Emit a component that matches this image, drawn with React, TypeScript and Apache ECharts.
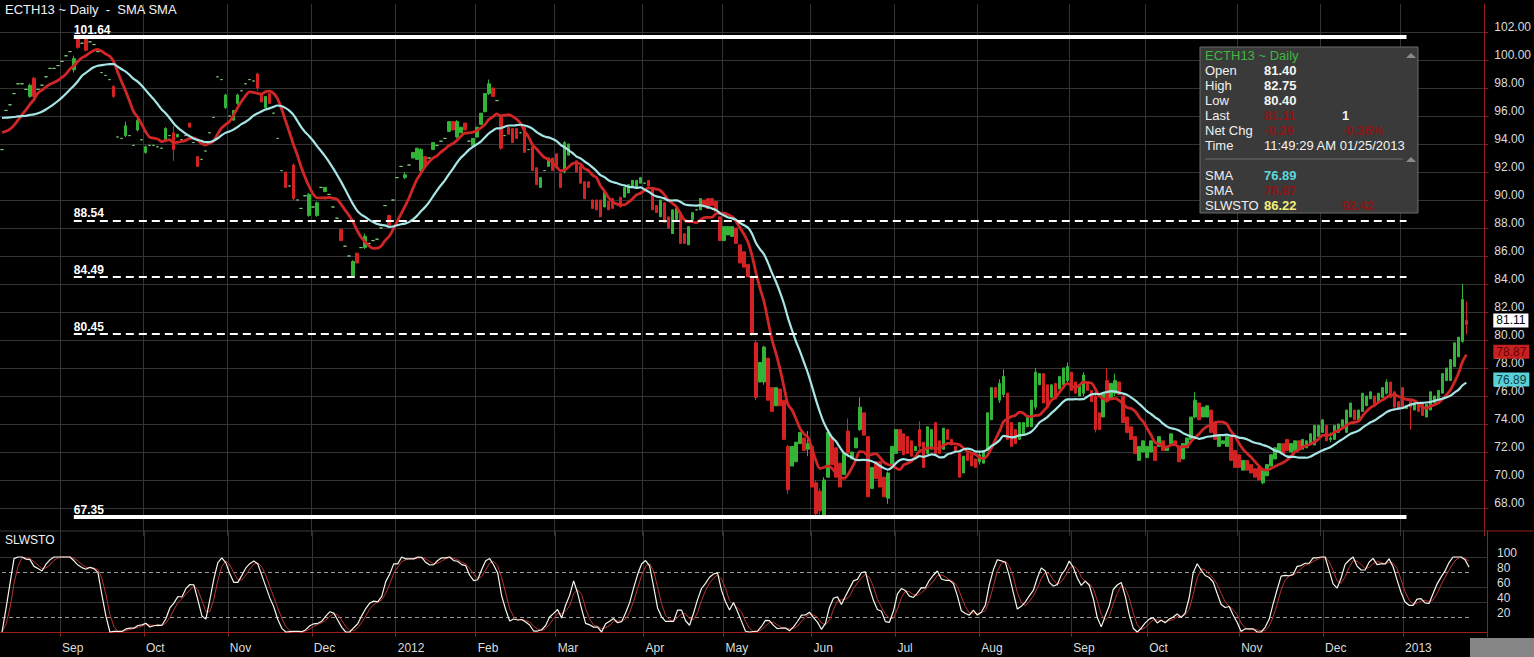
import React, { useEffect, useRef } from "react";
import * as echarts from "echarts";

// ---------------- Data ----------------
const MONTH_LABELS = ["Aug", "Sep", "Oct", "Nov", "Dec", "2012", "Feb", "Mar", "Apr", "May", "Jun", "Jul", "Aug", "Sep", "Oct", "Nov", "Dec", "2013"];
const MONTH_SESSIONS = [15, 21, 21, 21, 21, 20, 20, 22, 20, 22, 21, 21, 23, 19, 23, 21, 20, 17];
const TRAILING_EMPTY_SESSIONS = 4;

// A bar is either a close (no trade: open = high = low = close),
// [open, close] (no visible wicks) or [open, close, low, high].
type Bar = number | number[];

const AUG_2011: Bar[] = [93.6, 96.4, 96.8, 97.6, 98.3, 98.3, 97.9, [97.4, 98.2, 97.3, 98.3], [98.7, 97.4, 97.3, 98.8], 97.9, 98.2, 98.8, 99.4, 99.4, 99.6];
const SEP_2011: Bar[] = [99.9, 100.3, 100.6, [99.3, 100.1, 99.1, 100.3], [101.5, 100.9, 100.8, 101.64], 101.2, [101.6, 100.7, 100.6, 101.64], 101.3, 101.1, 100.6, 99.1, 98.9, 98.6, [98.1, 97.4, 97.3, 98.2], 94.5, 94.4, [94.6, 95.3, 94.5, 95.6], 94.6, 93.9, [95.0, 95.7, 94.9, 95.8], 94.3];
const OCT_2011: Bar[] = [[93.4, 93.8, 93.3, 93.9], 93.9, 93.9, 93.8, 93.7, [94.3, 95.1, 94.2, 95.2], 94.6, [94.8, 93.6, 92.8, 95.3], [94.5, 94.7], 94.3, 94.6, [95.5, 95.2], 94.1, [93.1, 92.4], 92.9, 93.5, 94.8, 95.9, 98.8, 98.6, [96.6, 97.5, 96.5, 97.6]];
const NOV_2011: Bar[] = [96.0, [95.7, 96.4], [96.9, 97.5, 96.8, 97.6], 97.8, 98.3, 98.6, 98.5, [99.0, 98.0, 97.8, 99.1], [97.6, 97.0], [96.6, 97.4], [97.6, 96.9], 96.2, 94.4, 92.1, [92.0, 90.9], 91.0, [92.5, 90.1, 90.0, 92.6], 90.0, 89.4, 90.3, [88.9, 90.4, 88.8, 90.5]];
const DEC_2011: Bar[] = [89.5, [88.9, 89.8, 88.8, 89.9], 90.9, [90.6, 90.9], 90.4, 89.5, 88.7, [87.9, 87.1], 86.7, 86.0, [84.6, 85.6, 84.5, 85.7], [86.2, 85.5], 86.6, [86.6, 87.4, 86.5, 87.6], 86.9, 87.1, 87.2, 88.0, 89.6, [88.9, 88.2], 90.0];
const JAN_2012: Bar[] = [91.6, 92.4, [91.6, 91.8, 91.5, 92.0], 92.5, [93.0, 93.4], [92.9, 93.7], [92.1, 93.6, 92.0, 93.7], [93.1, 92.4], 93.0, [93.6, 94.1], 93.9, 94.2, 94.4, [94.9, 95.6], [95.6, 95.0], [94.5, 95.6, 94.4, 95.7], [94.8, 95.2], [95.5, 95.0], 94.2, [93.9, 94.4]];
const FEB_2012: Bar[] = [[94.5, 95.2], [95.4, 96.2], [96.3, 97.6], [97.6, 98.3, 97.5, 98.6], [98.0, 97.4], 97.1, [95.9, 93.7, 93.6, 96.0], 94.6, [95.2, 94.7], [95.1, 94.1], [95.1, 94.4], 94.8, [95.2, 93.4], 93.6, [93.8, 92.1], [92.3, 91.1], [90.9, 91.6], 92.1, [92.4, 93.0], [93.0, 92.1]];
const MAR_2012: Bar[] = [[93.3, 92.3], [91.9, 90.9], [92.0, 94.1, 91.9, 94.2], [93.2, 94.0], 93.4, [92.8, 92.0], [92.4, 91.2], [91.3, 90.1], [91.3, 90.9], [90.0, 89.4], [90.0, 89.3], [90.0, 88.8], [89.5, 90.6], [89.9, 89.3], [90.1, 89.4], 89.7, [90.2, 89.5], [90.2, 90.9], [90.5, 91.1], [91.0, 91.4], [90.9, 91.4], [91.2, 91.6]];
const APR_2012: Bar[] = [91.2, [91.4, 91.0], [90.9, 89.3], [89.6, 89.1], [88.8, 90.0], [89.8, 88.4], [88.8, 88.0], [87.6, 89.3], [88.6, 89.4], [89.1, 86.9], [87.6, 86.9], [86.8, 88.1], [88.6, 89.1], 89.3, [89.3, 90.1], [90.0, 89.6], [90.1, 89.4], [90.1, 89.6], [89.9, 89.2], [88.8, 87.1]];
const MAY_2012: Bar[] = [[87.1, 88.1], [87.5, 88.1], [87.4, 88.1], [88.0, 86.9], [86.8, 85.5], [86.3, 85.2], [85.4, 84.5], [84.5, 80.5, 80.3, 84.6], [79.8, 75.9, 75.7, 80.0], [77.0, 78.4], [77.0, 79.5, 76.8, 79.6], [78.7, 75.7], [76.6, 74.9], [75.3, 76.6], [76.5, 75.3], [75.7, 72.9], [72.4, 69.3, 69.0, 72.5], [71.0, 72.4], [71.3, 72.7], [72.6, 73.4], [73.0, 72.1], [72.2, 72.6, 71.7, 73.5]];
const JUN_2012: Bar[] = [[72.4, 69.5], [69.8, 67.6, 67.35, 70.0], [69.2, 67.8, 67.4, 69.4], [67.5, 70.0, 67.4, 70.2], [70.2, 73.4], [73.0, 71.1], [72.3, 70.2], [71.2, 69.5], [70.4, 71.9], [73.5, 71.9, 71.7, 74.4], [71.5, 72.0], [72.3, 73.0], [73.6, 75.2, 73.5, 75.9], [74.8, 73.2], [73.1, 68.8], [69.4, 70.9], [71.3, 70.1], [71.3, 69.5], [70.2, 68.8], [68.7, 70.5, 68.3, 70.6], [71.0, 72.4]];
const JUL_2012: Bar[] = [[71.9, 73.6], [73.6, 72.1], [73.3, 71.8], [73.1, 71.9], [72.8, 71.7], [72.1, 72.4], [73.6, 72.4, 72.2, 74.2], [72.7, 70.9], [71.9, 73.8], [72.2, 73.6], [74.1, 71.9], [72.8, 71.9], [72.2, 73.7], [73.6, 72.9], [72.9, 72.5], [72.4, 72.1], [71.9, 70.2], [70.5, 71.7], [71.9, 71.4], [71.8, 71.0], [71.5, 70.9]];
const AUG_2012: Bar[] = [[71.3, 71.8, 71.1, 72.0], [71.2, 72.1], [72.1, 74.8], [74.3, 76.6], [76.6, 75.9], [75.7, 76.9, 75.5, 77.2], [76.1, 77.4, 75.9, 77.9], [76.2, 72.9], [74.1, 72.4], [73.6, 72.6], [72.9, 74.1], [73.2, 74.1], [73.8, 74.6], [73.8, 75.7], [75.2, 77.7, 75.0, 78.0], [76.8, 77.6], [77.6, 75.5], [76.8, 75.2], [75.9, 76.8], [76.9, 75.8], [76.5, 77.4], [76.8, 78.0], [77.1, 78.1, 77.0, 78.4]];
const SEP_2012: Bar[] = [[77.7, 76.4], [77.0, 76.2], [76.0, 76.8], [76.2, 77.5, 76.0, 77.7], [77.0, 76.4], [76.4, 75.6], [76.0, 73.6, 73.4, 76.3], [74.8, 73.6], [74.5, 76.2], [77.1, 75.6, 75.5, 78.0], [75.8, 76.9], [76.2, 77.1, 76.0, 77.6], [77.0, 76.1], [76.0, 74.1], [74.5, 73.4], [73.8, 72.9], [73.1, 71.9], [71.4, 72.4], [72.0, 72.8]];
const OCT_2012: Bar[] = [[71.6, 72.4], [72.0, 72.8], [72.4, 71.4], [72.4, 73.1], [72.8, 72.1], [72.1, 72.3], [72.6, 73.3], [72.8, 72.5], [72.4, 71.3], [71.5, 72.6], [72.3, 73.0], [72.9, 74.5], [74.5, 75.7, 74.4, 76.3], [75.5, 74.3], [74.5, 75.2], [74.5, 75.3], [75.0, 73.4], [74.1, 72.9], [72.4, 73.1], [72.6, 72.8], [72.4, 73.1], [73.1, 71.4], [72.1, 70.9]];
const NOV_2012: Bar[] = [[71.8, 70.9], [70.7, 71.4], [71.4, 70.7], [71.1, 70.5], [70.8, 70.2], [70.9, 70.0], [69.8, 70.7, 69.7, 70.8], [70.3, 71.1], [71.0, 71.8], [71.5, 72.3], [72.0, 72.6], [72.6, 71.9], [72.9, 72.1], [72.0, 72.6], [72.1, 72.8], [72.8, 72.2], [72.2, 72.9], [72.3, 72.8], [72.6, 73.3], [72.5, 73.9], [73.1, 73.9]];
const DEC_2012: Bar[] = [[73.4, 74.3], [73.9, 72.8], [72.9, 73.0, 72.7, 73.4], [72.9, 73.9], [73.4, 74.0], [73.8, 74.3], [73.4, 75.0], [74.5, 75.5], [75.0, 74.3], [74.3, 75.0], [74.9, 76.2], [75.3, 76.0], [75.8, 76.3], [76.0, 75.4], [75.6, 76.2], [75.9, 76.6], [76.2, 77.0, 76.1, 77.2], [77.0, 75.9], [76.3, 75.2], [75.6, 75.1]];
const JAN_2013: Bar[] = [[76.6, 75.1], [75.1, 75.3], [75.6, 75.2, 73.6, 75.8], [75.0, 75.5], [75.5, 74.9], [75.5, 74.6], [74.5, 75.4], [75.0, 76.3], [75.5, 76.0], [75.8, 76.4], [76.2, 77.6], [77.1, 78.0], [77.1, 78.6], [78.1, 79.8], [78.8, 80.2], [79.9, 82.9, 79.8, 84.0], [81.4, 81.11, 80.4, 82.75]];

// closes before the visible window, estimated from where both averages start
const WARMUP_CLOSES = [96.0, 96.5, 97.0, 97.5, 97.8, 97.5, 97.0, 96.6, 96.2, 96.0, 95.8, 95.6, 95.4, 95.2, 95.0, 94.9, 94.7, 94.6, 94.4];

const FIB_LEVELS = [101.64, 88.54, 84.49, 80.45, 67.35];
const PRICE_GRID = [68, 70, 72, 74, 76, 78, 80, 82, 84, 86, 88, 90, 92, 94, 96, 98, 100, 102];
const STOCH_GRID = [40, 60, 100];
const STOCH_DASHED = [20, 80];
const STOCH_LABELS = [20, 40, 60, 80, 100];

const LAST_PRICE = 81.11;
const SMA_FAST_LAST = 78.87;
const SMA_SLOW_LAST = 76.89;

const SMA_FAST = 9;
const SMA_SLOW = 20;
const STO_K = 14;
const STO_SLOW = 3;
const STO_D = 3;

const INFO_TITLE = "ECTH13 ~ Daily";
const INFO_ROWS = [
  { label: "Open", value: "81.40" },
  { label: "High", value: "82.75" },
  { label: "Low", value: "80.40" },
  { label: "Last", value: "81.11", hidden: true, extra: "1" },
  { label: "Net Chg", value: "-0.29", hidden: true, extra: "-0.36%", extraHidden: true },
  { label: "Time", value: "11:49:29 AM 01/25/2013", plain: true },
];
const INFO_STUDIES = [
  { label: "SMA", value: "76.89", color: "#5fd6dc" },
  { label: "SMA", value: "78.87", color: "#b02020", hidden: true },
  { label: "SLWSTO", value: "86.22", color: "#f2ee7a", extra: "92.42" },
];

// ---------------- Derived ----------------
const BARS: Bar[] = [
  ...AUG_2011, ...SEP_2011, ...OCT_2011, ...NOV_2011, ...DEC_2011,
  ...JAN_2012, ...FEB_2012, ...MAR_2012, ...APR_2012, ...MAY_2012, ...JUN_2012,
  ...JUL_2012, ...AUG_2012, ...SEP_2012, ...OCT_2012, ...NOV_2012, ...DEC_2012, ...JAN_2013,
];

function toOCLH(b: Bar): number[] {
  if (typeof b === "number") return [b, b, b, b];
  const o = b[0];
  const c = b[1];
  const l = b.length > 2 ? b[2] : Math.min(o, c);
  const h = b.length > 3 ? b[3] : Math.max(o, c);
  return [o, c, l, h];
}

function sma(arr: (number | null)[], n: number): (number | null)[] {
  return arr.map((_, i) => {
    if (i < n - 1) return null;
    let s = 0;
    for (let k = i - n + 1; k <= i; k++) {
      const v = arr[k];
      if (v == null) return null;
      s += v;
    }
    return s / n;
  });
}

function buildOption() {
  const candles = BARS.map(toOCLH);
  const W = WARMUP_CLOSES.length;
  const allC = [...WARMUP_CLOSES, ...candles.map((b) => b[1])];
  const allL = [...WARMUP_CLOSES, ...candles.map((b) => b[2])];
  const allH = [...WARMUP_CLOSES, ...candles.map((b) => b[3])];

  const fast = sma(allC, SMA_FAST).slice(W).map((v) => (v == null ? null : +v.toFixed(3)));
  const slow = sma(allC, SMA_SLOW).slice(W).map((v) => (v == null ? null : +v.toFixed(3)));

  const rawK: (number | null)[] = allC.map((c, i) => {
    if (i < STO_K - 1) return null;
    let hh = -Infinity;
    let ll = Infinity;
    for (let k = i - STO_K + 1; k <= i; k++) {
      hh = Math.max(hh, allH[k]);
      ll = Math.min(ll, allL[k]);
    }
    return hh === ll ? 50 : ((c - ll) / (hh - ll)) * 100;
  });
  const slowK = sma(rawK, STO_SLOW);
  const slowD = sma(slowK, STO_D);
  const kLine = slowK.slice(W).map((v) => (v == null ? null : +v.toFixed(2)));
  const dLine = slowD.slice(W).map((v) => (v == null ? null : +v.toFixed(2)));

  const categories: string[] = [];
  const monthStart = new Map<number, string>();
  MONTH_LABELS.forEach((m, mi) => {
    for (let d = 0; d < MONTH_SESSIONS[mi]; d++) {
      if (d === 0 && mi > 0) monthStart.set(categories.length, m);
      categories.push(`${mi}:${m}:${d + 1}`);
    }
  });
  for (let k = 0; k < TRAILING_EMPTY_SESSIONS; k++) categories.push(`next:${k + 1}`);
  const isMonthStart = (i: number) => monthStart.has(i);

  const FIB_START = 18;
  const FIB_END = 352;
  const fibMax = Math.max(...FIB_LEVELS);
  const fibMin = Math.min(...FIB_LEVELS);

  const GRID_COLOR = "#333333";
  const AXIS_RED = "#9c1c1c";
  const FONT = '"Liberation Sans", Arial, sans-serif';
  const TXT = "#dcdcdc";
  const CLEAR = "rgba(0,0,0,0)";

  const STO_MIN = -20 / 3;
  const STO_MAX = 134 + 2 / 3;

  const tag = (v: number, bg: string, fg: string) => ({
    yAxis: v,
    lineStyle: { color: CLEAR, width: 1 },
    label: {
      show: true,
      position: "end",
      distance: 9,
      offset: [0, -4],
      formatter: v.toFixed(2),
      backgroundColor: bg,
      color: fg,
      padding: [1, 3, 0, 3],
      lineHeight: 13,
      fontSize: 12,
      fontFamily: FONT,
    },
  });

  const infoChildren: any[] = [
    { type: "rect", z: 100, shape: { x: 0, y: 0, width: 218, height: 166 }, style: { fill: "#3a3a3a", stroke: "#6a6a6a", lineWidth: 1 } },
    { type: "text", z: 101, x: 5, y: 8, style: { text: INFO_TITLE, fill: "#3fb83f", font: `13px ${FONT}`, textVerticalAlign: "middle" } },
    { type: "polygon", z: 101, shape: { points: [[206, 11], [216, 11], [211, 6]] }, style: { fill: "#8a8a8a" } },
    { type: "line", z: 101, shape: { x1: 5, y1: 112, x2: 203, y2: 112 }, style: { stroke: "#6c6c6c", lineWidth: 1 } },
    { type: "polygon", z: 101, shape: { points: [[206, 115], [216, 115], [211, 110]] }, style: { fill: "#8a8a8a" } },
  ];
  const hiddenStyle = { fill: "#8c1515", shadowColor: "rgba(210,30,30,0.9)", shadowBlur: 5 };
  INFO_ROWS.forEach((r, i) => {
    const y = 23 + i * 15;
    infoChildren.push({ type: "text", z: 101, x: 5, y, style: { text: r.label, fill: "#f0f0f0", font: `13px ${FONT}`, textVerticalAlign: "middle" } });
    infoChildren.push({
      type: "text", z: 101, x: 64, y,
      style: { text: r.value, font: `${r.plain ? "" : "bold "}13px ${FONT}`, textVerticalAlign: "middle", ...(r.hidden ? hiddenStyle : { fill: "#f4f4f4" }) },
    });
    if (r.extra) {
      infoChildren.push({
        type: "text", z: 101, x: 142, y,
        style: { text: r.extra, font: `bold 13px ${FONT}`, textVerticalAlign: "middle", ...(r.extraHidden ? hiddenStyle : { fill: "#f4f4f4" }) },
      });
    }
  });
  INFO_STUDIES.forEach((s, i) => {
    const y = 128 + i * 15;
    infoChildren.push({ type: "text", z: 101, x: 5, y, style: { text: s.label, fill: "#f0f0f0", font: `13px ${FONT}`, textVerticalAlign: "middle" } });
    infoChildren.push({
      type: "text", z: 101, x: 64, y,
      style: { text: s.value, font: `bold 13px ${FONT}`, textVerticalAlign: "middle", ...(s.hidden ? hiddenStyle : { fill: s.color }) },
    });
    if (s.extra) {
      infoChildren.push({ type: "text", z: 101, x: 142, y, style: { text: s.extra, font: `bold 13px ${FONT}`, textVerticalAlign: "middle", ...hiddenStyle } });
    }
  });

  return {
    backgroundColor: "#000000",
    animation: false,
    textStyle: { fontFamily: FONT },
    grid: [
      { left: 0, right: 47, top: 4, height: 532 },
      { left: 0, right: 47, top: 531, height: 106 },
    ],
    xAxis: [
      {
        type: "category", gridIndex: 0, data: categories, boundaryGap: true,
        axisLine: { show: false }, axisTick: { show: false }, axisLabel: { show: false },
        splitLine: { show: true, interval: (i: number) => isMonthStart(i), lineStyle: { color: GRID_COLOR, width: 1 } },
      },
      {
        type: "category", gridIndex: 1, data: categories, boundaryGap: true,
        axisLine: { show: true, lineStyle: { color: AXIS_RED, width: 1 } },
        axisTick: { show: true, interval: (i: number) => isMonthStart(i), length: 4, lineStyle: { color: AXIS_RED } },
        axisLabel: {
          show: true, interval: (i: number) => isMonthStart(i),
          formatter: (_v: string, i: number) => monthStart.get(i) ?? "",
          align: "left", color: TXT, fontSize: 12, margin: 5, fontFamily: FONT,
        },
        splitLine: { show: true, interval: (i: number) => isMonthStart(i), lineStyle: { color: GRID_COLOR, width: 1 } },
      },
    ],
    yAxis: [
      {
        type: "value", gridIndex: 0, position: "right", min: 66, max: 104, interval: 2,
        axisLine: { show: true, lineStyle: { color: AXIS_RED, width: 1 } },
        axisTick: { show: true, length: 4, lineStyle: { color: AXIS_RED } },
        axisLabel: {
          show: true, formatter: (v: number) => v.toFixed(2), color: TXT, fontSize: 12, margin: 10,
          showMinLabel: false, showMaxLabel: false, verticalAlign: "bottom", lineHeight: 10, fontFamily: FONT,
        },
        splitLine: { show: false },
      },
      {
        type: "value", gridIndex: 1, position: "right", min: STO_MIN, max: STO_MAX,
        axisLine: { show: true, lineStyle: { color: AXIS_RED, width: 1 } },
        axisTick: { show: false }, axisLabel: { show: false }, splitLine: { show: false },
      },
    ],
    series: [
      {
        name: "price grid", type: "line", xAxisIndex: 0, yAxisIndex: 0, data: [], silent: true,
        markLine: {
          silent: true, symbol: "none", z: 1,
          data: PRICE_GRID.map((v) => ({ yAxis: v, lineStyle: { color: GRID_COLOR, type: "solid", width: 1 }, label: { show: false } })),
        },
      },
      {
        name: "ECTH13", type: "candlestick", xAxisIndex: 0, yAxisIndex: 0, data: candles, barWidth: 3,
        itemStyle: {
          color: "#33b439", color0: "#d42222", borderColor: "#33b439", borderColor0: "#d42222",
          borderColorDoji: "#7fca7f", borderWidth: 1,
        },
        markLine: {
          silent: true, symbol: "none",
          data: FIB_LEVELS.map((v) => {
            const solid = v === fibMax || v === fibMin;
            return [
              {
                coord: [categories[FIB_START], v],
                lineStyle: { color: "#ffffff", type: solid ? "solid" : [8, 5], width: solid ? 4 : 2, opacity: 1 },
                label: {
                  show: true, position: "insideStartTop", distance: [0, 1], formatter: v.toFixed(2),
                  color: "#ffffff", fontSize: 12, fontWeight: "bold", fontFamily: FONT,
                },
              },
              { coord: [categories[FIB_END], v] },
            ];
          }),
        },
      },
      {
        name: "SMA fast", type: "line", xAxisIndex: 0, yAxisIndex: 0, data: fast, showSymbol: false, symbol: "none",
        smooth: 0.3, lineStyle: { color: "#d02626", width: 2.8 }, silent: true,
      },
      {
        name: "SMA slow", type: "line", xAxisIndex: 0, yAxisIndex: 0, data: slow, showSymbol: false, symbol: "none",
        smooth: 0.3, lineStyle: { color: "#a6e6e6", width: 2.2 }, silent: true,
      },
      {
        name: "tags", type: "line", xAxisIndex: 0, yAxisIndex: 0, data: [], silent: true,
        markLine: {
          silent: true, symbol: "none",
          data: [
            tag(LAST_PRICE, "#ffffff", "#000000"),
            tag(SMA_FAST_LAST, "#c42222", "#6a0000"),
            tag(SMA_SLOW_LAST, "#58d0d8", "#0d3b40"),
          ],
        },
      },
      {
        name: "stoch grid", type: "line", xAxisIndex: 1, yAxisIndex: 1, data: [], silent: true,
        markLine: {
          silent: true, symbol: "none", z: 1,
          data: [
            ...STOCH_GRID.map((v) => ({ yAxis: v, lineStyle: { color: GRID_COLOR, type: "solid", width: 1 }, label: { show: false } })),
            ...STOCH_DASHED.map((v) => [
              { coord: [categories[0], v], lineStyle: { color: "#9a9a9a", type: [4, 3], width: 1 }, label: { show: false } },
              { coord: [categories[BARS.length - 1], v] },
            ]),
            ...STOCH_LABELS.map((v) => ({
              yAxis: v, lineStyle: { color: CLEAR, width: 1 },
              label: { show: true, position: "end", distance: 10, offset: [0, -4], formatter: String(v), color: TXT, fontSize: 12, fontFamily: FONT },
            })),
          ],
        },
      },
      {
        name: "%D", type: "line", xAxisIndex: 1, yAxisIndex: 1, data: dLine, showSymbol: false, symbol: "none",
        lineStyle: { color: "#b83232", width: 1 }, silent: true,
      },
      {
        name: "%K", type: "line", xAxisIndex: 1, yAxisIndex: 1, data: kLine, showSymbol: false, symbol: "none",
        lineStyle: { color: "#f6f6ea", width: 1.2 }, silent: true,
      },
    ],
    graphic: [
      { type: "text", left: 5, top: 3, z: 100, style: { text: "ECTH13 ~ Daily  -  SMA SMA", fill: "#f2f2f2", font: `13px ${FONT}` }, silent: true },
      { type: "text", left: 5, top: 534, z: 100, style: { text: "SLWSTO", fill: "#f2f2f2", font: `12px ${FONT}` }, silent: true },
      { type: "line", z: 100, shape: { x1: 0, y1: 531, x2: 1487, y2: 531 }, style: { stroke: "#3a3a3a", lineWidth: 1 }, silent: true },
      { type: "line", z: 100, shape: { x1: 1487, y1: 531, x2: 1534, y2: 531 }, style: { stroke: AXIS_RED, lineWidth: 1 }, silent: true },
      { type: "rect", z: 100, shape: { x: 1470, y: 638, width: 64, height: 19 }, style: { fill: "#858585" }, silent: true },
      { type: "group", x: 1200, y: 47, z: 100, children: infoChildren, silent: true },
    ],
  };
}

export default function App() {
  const ref = useRef<HTMLDivElement>(null);
  useEffect(() => {
    if (!ref.current) return;
    const chart = echarts.init(ref.current, undefined, { renderer: "svg" });
    chart.setOption(buildOption() as any);
    return () => chart.dispose();
  }, []);
  return (
    <div
      ref={ref}
      style={{ position: "fixed", left: 0, top: 0, width: "1534px", height: "657px", background: "#000" }}
    />
  );
}
